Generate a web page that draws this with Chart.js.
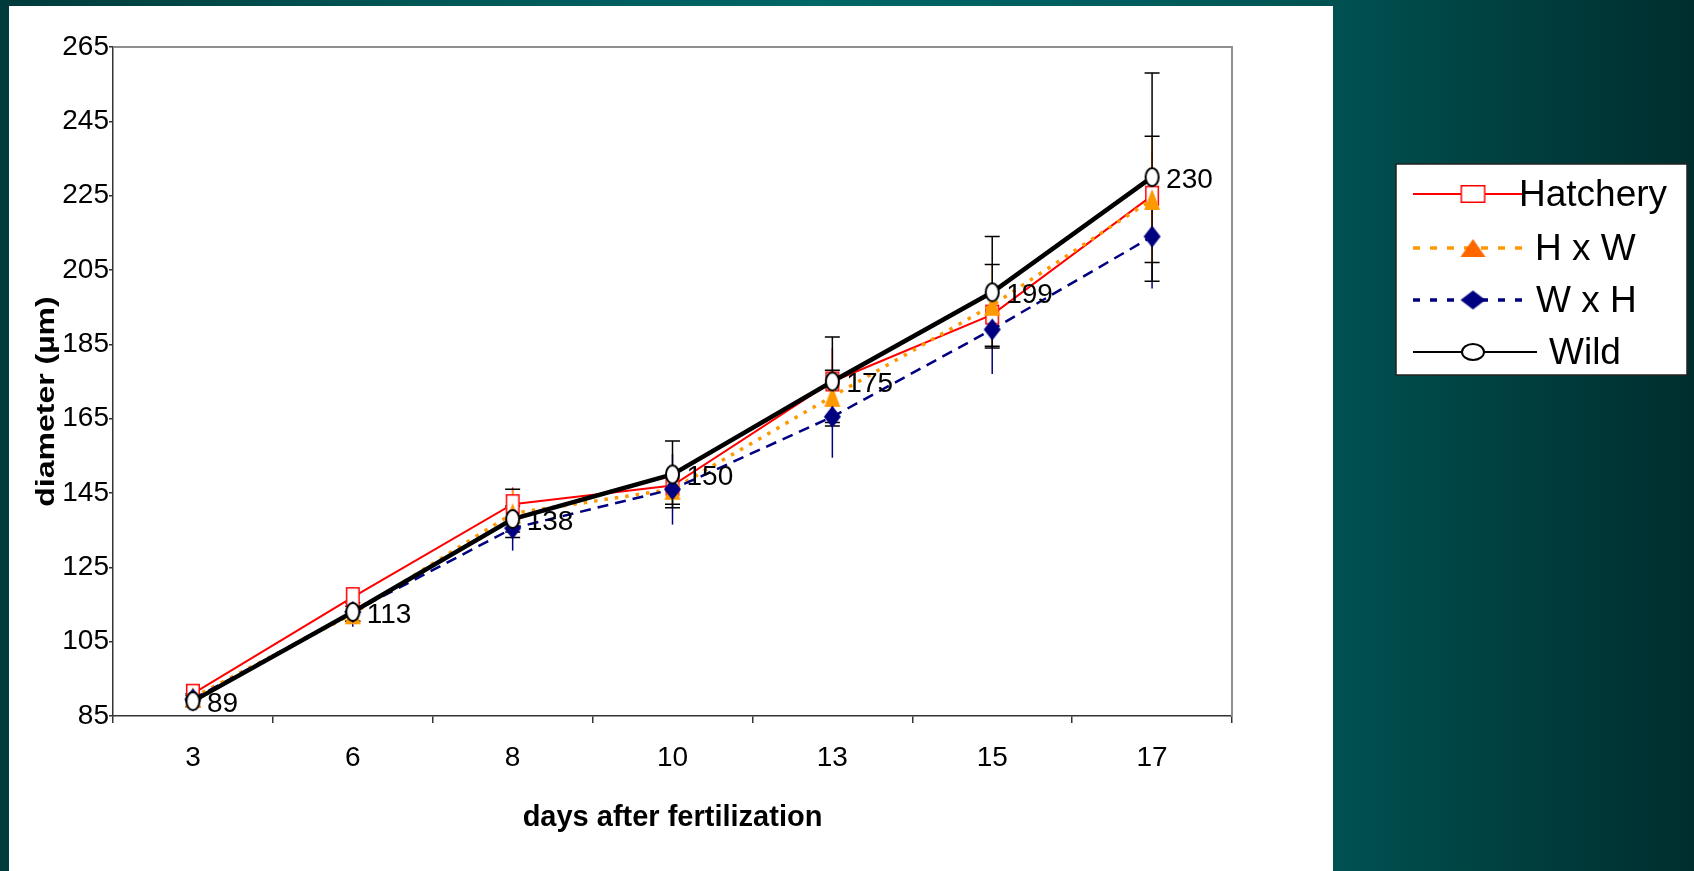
<!DOCTYPE html>
<html>
<head>
<meta charset="utf-8">
<script src="https://cdn.jsdelivr.net/npm/chart.js@4.4.1/dist/chart.umd.min.js"></script>
<style>
html, body { margin: 0; padding: 0; width: 1694px; height: 871px; overflow: hidden; }
body { position: relative; background: linear-gradient(90deg, #003a3a 0%, #005656 25%, #006666 48%, #005c5c 68%, #005151 79%, #003e3e 90%, #002e2e 100%); }
#panel { position: absolute; left: 9px; top: 6px; width: 1324px; height: 865px; background: #fff; }
#wrap { position: absolute; left: 0; top: 0; width: 1694px; height: 871px; }
</style>
</head>
<body>
<div id="panel"></div>
<div id="wrap"><canvas id="chart"></canvas></div>
<script>
// --- data ---
const days = ['3', '6', '8', '10', '13', '15', '17'];
const hatchery = [91, 117, 142, 147, 175, 193, 225];
const hxw = [90, 112.5, 139.5, 146, 171, 195.5, 224];
const wxh = [89.5, 113, 135.5, 146, 165.5, 189, 214];
const wild = [89, 113, 138, 150, 175, 199, 230];
// error bar half widths
const hatcheryErr = [1.5, 2.5, 4.5, 4, 9, 5, 12];
const hxwErr = [1, 2, 6.5, 4, 7, 11, 17];
const wxhErr = [2, 4, 6, 9.5, 11, 12, 14];
const wildErr = [1.5, 2.5, 3.5, 9, 12, 15, 28];
const yTicks = { min: 85, max: 265, step: 20 };
const yTitle = 'diameter (µm)';

const FONT = "'Liberation Sans', Arial, sans-serif";
Chart.defaults.font.family = FONT;
Chart.defaults.color = '#000';

// marker images (the source markers are stretched, so draw them ourselves)
const marker = (w, h, draw) => {
    const c = document.createElement('canvas');
    c.width = w + 4; c.height = h + 4;
    const g = c.getContext('2d');
    g.translate(2, 2);
    draw(g, w, h);
    return c;
};
const square = (col) => (g, w, h) => { g.fillStyle = '#fff'; g.fillRect(0, 0, w, h); g.strokeStyle = col; g.lineWidth = 1.5; g.strokeRect(0.75, 0.75, w - 1.5, h - 1.5); };
const triangle = (col) => (g, w, h) => { g.fillStyle = col; g.beginPath(); g.moveTo(w / 2, 0); g.lineTo(w, h); g.lineTo(0, h); g.closePath(); g.fill(); };
const diamond = (col) => (g, w, h) => { g.fillStyle = col; g.beginPath(); g.moveTo(w / 2, 0); g.lineTo(w, h / 2); g.lineTo(w / 2, h); g.lineTo(0, h / 2); g.closePath(); g.fill(); };
const ellipse = (g, w, h) => { g.beginPath(); g.ellipse(w / 2, h / 2, w / 2 - 1, h / 2 - 1, 0, 0, Math.PI * 2); g.fillStyle = '#fff'; g.fill(); g.strokeStyle = '#000'; g.lineWidth = 2; g.stroke(); };

const mSquare = marker(14, 20, square('#ff0000'));
const mTri = marker(16, 21, triangle('#ff9900'));
const mDiam = marker(17, 22, diamond('#000080'));
const mEll = marker(15, 20, ellipse);

// legend entries (line style + own marker)
const legendItems = [
    { text: 'Hatchery', color: '#ff0000', width: 2, dash: [], lineEnd: 1522, textX: 1519, y: 194, m: marker(25, 18, square('#ff0000')) },
    { text: 'H x W', color: '#ff9900', width: 3.5, dash: [7, 10], lineEnd: 1527, textX: 1535, y: 248, m: marker(25, 18, triangle('#ff6600')) },
    { text: 'W x H', color: '#000080', width: 3.5, dash: [7, 10], lineEnd: 1527, textX: 1536, y: 300, m: marker(25, 19, diamond('#000080')) },
    { text: 'Wild', color: '#000', width: 2, dash: [], lineEnd: 1537, textX: 1549, y: 352, m: marker(24, 18, ellipse) }
];

// === PLUGINS ===
const errorBars = {
    id: 'errorBars',
    beforeDatasetsDraw(chart) {
        const ctx = chart.ctx, ys = chart.scales.y;
        const sets = [
            { di: 2, err: wxhErr, color: '#000080', cap: false },
            { di: 0, err: hatcheryErr, color: '#ff0000', cap: false },
            { di: 1, err: hxwErr, color: '#ff9900', cap: true },
            { di: 3, err: wildErr, color: '#000', cap: true }
        ];
        ctx.save();
        sets.forEach(s => {
            const vals = chart.data.datasets[s.di].data;
            chart.getDatasetMeta(s.di).data.forEach((pt, i) => {
                const top = ys.getPixelForValue(vals[i] + s.err[i]);
                const bot = ys.getPixelForValue(vals[i] - s.err[i]);
                ctx.strokeStyle = s.color; ctx.lineWidth = 1.5;
                ctx.beginPath(); ctx.moveTo(pt.x, top); ctx.lineTo(pt.x, bot); ctx.stroke();
                if (s.cap) {
                    ctx.strokeStyle = '#000';
                    ctx.beginPath();
                    ctx.moveTo(pt.x - 7.5, top); ctx.lineTo(pt.x + 7.5, top);
                    ctx.moveTo(pt.x - 7.5, bot); ctx.lineTo(pt.x + 7.5, bot);
                    ctx.stroke();
                }
            });
        });
        ctx.restore();
    }
};

const extras = {
    id: 'extras',
    afterDatasetsDraw(chart) {
        const ctx = chart.ctx, a = chart.chartArea;
        ctx.save();
        // plot frame top/right
        ctx.strokeStyle = '#8f8f8f'; ctx.lineWidth = 2;
        ctx.beginPath(); ctx.moveTo(a.left, a.top); ctx.lineTo(a.right, a.top); ctx.lineTo(a.right, a.bottom); ctx.stroke();
        // value labels for Wild
        ctx.fillStyle = '#000'; ctx.font = '28px ' + FONT; ctx.textBaseline = 'middle'; ctx.textAlign = 'left';
        chart.getDatasetMeta(3).data.forEach((pt, i) => ctx.fillText(String(wild[i]), pt.x + 14, pt.y + 3));
        ctx.restore();
    },
    afterDraw(chart) {
        const ctx = chart.ctx, a = chart.chartArea;
        ctx.save();
        // y axis title, stretched along its length like the slide
        ctx.translate(47, (a.top + a.bottom) / 2 + 20);
        ctx.rotate(-Math.PI / 2);
        ctx.scale(1.23, 1);
        ctx.font = 'bold 26px ' + FONT; ctx.textAlign = 'center'; ctx.textBaseline = 'middle'; ctx.fillStyle = '#000';
        ctx.fillText(yTitle, 0, 0);
        ctx.restore();

        ctx.save();
        ctx.fillStyle = '#fff'; ctx.fillRect(1396, 164, 291, 211);
        ctx.strokeStyle = '#222'; ctx.lineWidth = 1.5; ctx.strokeRect(1396, 164, 291, 211);
        ctx.font = '37px ' + FONT; ctx.textBaseline = 'middle'; ctx.fillStyle = '#000';
        legendItems.forEach(it => {
            ctx.strokeStyle = it.color; ctx.lineWidth = it.width; ctx.setLineDash(it.dash);
            ctx.beginPath(); ctx.moveTo(1413, it.y); ctx.lineTo(it.lineEnd, it.y); ctx.stroke();
            ctx.setLineDash([]);
            ctx.drawImage(it.m, 1473 - it.m.width / 2, it.y - it.m.height / 2);
            ctx.fillText(it.text, it.textX, it.y + 2);
        });
        ctx.restore();
    }
};

new Chart(document.getElementById('chart'), {
    type: 'line',
    data: {
        labels: days,
        datasets: [
            { label: 'Hatchery', data: hatchery, borderColor: '#ff0000', borderWidth: 2, pointStyle: mSquare, pointRadius: 6, order: 3 },
            { label: 'H x W', data: hxw, borderColor: '#ff9900', borderWidth: 3.5, borderDash: [3.5, 7], pointStyle: mTri, pointRadius: 6, order: 2 },
            { label: 'W x H', data: wxh, borderColor: '#000080', borderWidth: 2.5, borderDash: [11, 7], pointStyle: mDiam, pointRadius: 6, order: 1 },
            { label: 'Wild', data: wild, borderColor: '#000', borderWidth: 4.5, pointStyle: mEll, pointRadius: 6, order: 0 }
        ]
    },
    options: {
        responsive: true,
        maintainAspectRatio: false,
        animation: false,
        layout: { padding: { left: 0, top: 47, right: 462, bottom: 0 } },
        elements: { line: { tension: 0, fill: false } },
        plugins: { legend: { display: false }, tooltip: { enabled: false } },
        scales: {
            x: {
                offset: true,
                grid: { offset: true, drawOnChartArea: false, drawTicks: true, tickLength: 7, color: '#333', lineWidth: 1.5 },
                border: { color: '#333', width: 1.5 },
                ticks: { font: { size: 28 }, padding: 18, maxRotation: 0 },
                title: { display: true, text: 'days after fertilization', font: { size: 29, weight: 'bold' }, padding: { top: 0, bottom: 36 } },
                afterFit: s => { s.height = 155; }
            },
            y: {
                min: yTicks.min, max: yTicks.max,
                grid: { drawOnChartArea: false, tickLength: 4, color: '#333', lineWidth: 1.5 },
                border: { color: '#333', width: 1.5 },
                ticks: { stepSize: yTicks.step, font: { size: 28 }, padding: 0 },
                title: { display: false },
                afterFit: s => { s.width = 113; }
            }
        }
    },
    plugins: [errorBars, extras]
});
</script>
</body>
</html>
